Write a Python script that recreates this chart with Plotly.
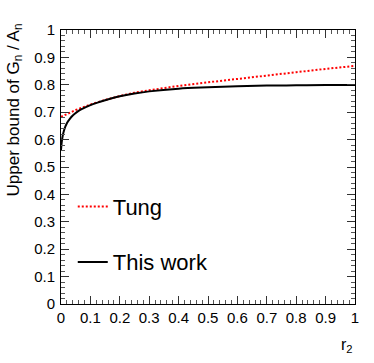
import plotly.graph_objects as go

r2_tung = [0.0, 0.02, 0.05, 0.1, 0.15, 0.2, 0.25, 0.3, 0.4, 0.5, 0.6, 0.7, 0.8, 0.9, 1.0]
tung = [0.683, 0.693, 0.708, 0.728, 0.745, 0.759, 0.771, 0.780, 0.796, 0.809, 0.822, 0.834, 0.846, 0.858, 0.869]

r2_work = [0.0, 0.003, 0.006, 0.01, 0.015, 0.02, 0.03, 0.04, 0.055, 0.07, 0.1, 0.133, 0.17, 0.2, 0.25, 0.3, 0.4, 0.5, 0.6, 0.7, 0.8, 0.9, 1.0]
work = [0.562, 0.595, 0.615, 0.632, 0.648, 0.660, 0.676, 0.688, 0.701, 0.711, 0.726, 0.738, 0.750, 0.758, 0.768, 0.776, 0.786, 0.791, 0.795, 0.797, 0.798, 0.799, 0.799]

FONT = "Liberation Sans, Arial, sans-serif"

fig = go.Figure()
fig.add_trace(go.Scatter(x=r2_tung, y=tung, mode="lines", name="Tung",
                         line=dict(color="red", width=2, dash="2px,2px"), legend="legend"))
fig.add_trace(go.Scatter(x=r2_work, y=work, mode="lines", name="This work",
                         line=dict(color="black", width=2), line_shape="spline", legend="legend2"))

axis_common = dict(range=[0, 1], dtick=0.1, tick0=0, ticks="inside", ticklen=8, tickwidth=1,
                   tickcolor="#333", showline=True, linecolor="black", linewidth=1,
                   mirror="allticks", showgrid=False, zeroline=False,
                   tickfont=dict(family=FONT, size=15, color="black"),
                   minor=dict(dtick=0.02, ticks="inside", ticklen=4, tickwidth=1, tickcolor="#555", showgrid=False))

fig.update_xaxes(**axis_common)
fig.update_yaxes(**axis_common, ticklabelstandoff=2)

legend_common = dict(xanchor="left", yanchor="middle", bgcolor="rgba(0,0,0,0)",
                     font=dict(family=FONT, size=22, color="black"), itemwidth=30)
fig.update_layout(
    width=374, height=363,
    margin=dict(l=61, r=19, t=30, b=59),
    paper_bgcolor="white", plot_bgcolor="white",
    showlegend=True,
    legend=dict(x=0.04, y=0.355, **legend_common),
    legend2=dict(x=0.04, y=0.153, **legend_common),
    annotations=[
        dict(text="Upper bound of G<sub>n</sub> / A<sub>n</sub>", textangle=-90,
             xref="paper", yref="paper", x=-0.156, y=1.03, xanchor="center", yanchor="top",
             showarrow=False, font=dict(family=FONT, size=17, color="black")),
        dict(text="r<sub>2</sub>", xref="paper", yref="paper", x=1.0, y=-0.11,
             xanchor="right", yanchor="top", showarrow=False,
             font=dict(family=FONT, size=16, color="black")),
    ],
)

fig.write_html("out.html", config={"displayModeBar": False},
               post_script="document.body.style.margin='0';document.body.style.overflow='hidden';")
